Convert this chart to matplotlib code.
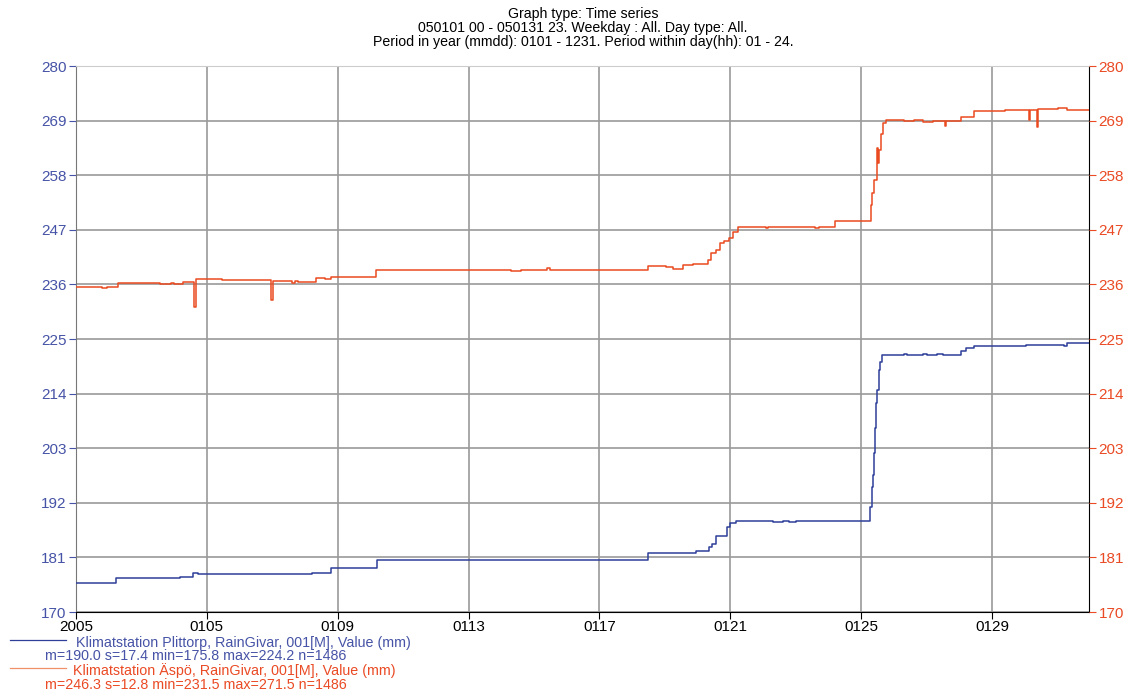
import matplotlib.pyplot as plt
from matplotlib.lines import Line2D
import numpy as np

plt.rcParams['font.family'] = ['Liberation Sans', 'DejaVu Sans']

# day offsets from 2005-01-01 00h and the level reached at that time (mm)
plittorp_t = [0, 0.6, 0.9, 1.21, 3.17, 3.58, 3.72, 7.21, 7.8, 9.21, 17.48, 18.95,
              19.36, 19.45, 19.55, 19.9, 20.0, 20.17, 21.3, 21.6, 21.8, 22.0,
              24.28, 24.32, 24.35, 24.38, 24.41, 24.44, 24.47, 24.53, 24.57, 24.63,
              25.3, 25.4, 25.9, 26.0, 26.3, 26.5, 27.04, 27.2, 27.45, 29.03,
              30.2, 30.3, 30.6, 30.96]
plittorp_v = [175.9, 175.8, 175.9, 176.85, 177.1, 177.9, 177.7, 177.95, 178.8, 180.4, 181.9, 182.35,
              183.0, 183.8, 185.4, 187.2, 187.9, 188.4, 188.1, 188.4, 188.1, 188.4,
              191.2, 195.2, 197.6, 202.0, 207.0, 212.1, 214.7, 218.8, 220.4, 221.8,
              222.0, 221.8, 222.0, 221.8, 222.0, 221.8, 222.5, 223.2, 223.6, 223.8,
              223.6, 224.1, 224.2, 224.2]

aspo_t = [0, 0.8, 0.95, 1.29, 2.56, 2.9, 3.0, 3.27, 3.62, 3.66, 4.45, 5.97, 6.01,
          6.6, 6.7, 6.79, 7.35, 7.6, 7.8, 9.18, 13.3, 13.6, 14.4, 14.5,
          17.48, 18.04, 18.25, 18.55, 18.85, 19.31, 19.42, 19.55, 19.68, 19.8,
          19.97, 20.07, 20.23, 20.4, 21.1, 21.15, 22.6, 22.7, 23.2,
          24.3, 24.33, 24.4, 24.47, 24.5, 24.55, 24.6, 24.65, 24.75,
          25.3, 25.6, 25.9, 26.2, 26.56, 26.6, 27.04, 27.45, 28.2, 28.4,
          29.13, 29.17, 29.36, 29.4, 30.0, 30.3, 30.96]
aspo_v = [235.5, 235.2, 235.5, 236.3, 236.0, 236.2, 236.0, 236.5, 231.5, 237.0, 236.8, 232.9, 236.6,
          236.2, 236.6, 236.5, 237.2, 237.0, 237.5, 239.0, 238.7, 239.0, 239.3, 239.0,
          239.8, 239.5, 239.2, 240.0, 240.1, 241.0, 242.4, 242.9, 244.3, 244.8,
          245.3, 246.6, 247.5, 247.6, 247.3, 247.6, 247.3, 247.6, 248.8,
          252.0, 254.4, 257.0, 263.5, 260.5, 263.0, 266.4, 268.5, 269.1,
          268.9, 269.1, 268.8, 269.0, 268.0, 268.9, 269.8, 271.0, 270.9, 271.1,
          269.2, 271.1, 267.8, 271.4, 271.5, 271.2, 271.2]

x_ticks = [0, 4, 8, 12, 16, 20, 24, 28]
x_labels = ["2005", "0105", "0109", "0113", "0117", "0121", "0125", "0129"]
y_ticks = [170, 181, 192, 203, 214, 225, 236, 247, 258, 269, 280]

blue = '#2d3f98'
red = '#ea4a20'
blue_txt = '#4653a6'
red_txt = '#ea4a24'

fig = plt.figure(figsize=(11.34, 6.98), dpi=100)
ax = fig.add_axes([0.067, 0.1232, 0.8933, 0.7822])

ax.plot(plittorp_t, plittorp_v, drawstyle='steps-post', color=blue, lw=1.1, zorder=3)
ax.plot(aspo_t, aspo_v, drawstyle='steps-post', color=red, lw=1.1, zorder=3)

ax.set_xlim(0, 30.96)
ax.set_ylim(170, 280)
ax.set_xticks(x_ticks)
ax.set_xticklabels(x_labels)
ax.set_yticks(y_ticks)
ax.grid(True, color='#9a9a9a', lw=1.2)
ax.tick_params(axis='x', colors='black', labelsize=11, length=5, pad=0.5)
ax.tick_params(axis='y', colors=blue_txt, labelsize=11, length=5, pad=2)
for lab in ax.get_yticklabels():
    lab.set_color(blue_txt)
ax.spines['top'].set_color('#cccccc')
ax.spines['left'].set_color('#777777')
ax.spines['right'].set_color('black')
ax.spines['bottom'].set_color('black')

ax2 = ax.twinx()
ax2.set_ylim(170, 280)
ax2.set_yticks(y_ticks)
ax2.tick_params(axis='y', colors=red_txt, labelsize=11, length=5, pad=2)
for s in ax2.spines.values():
    s.set_visible(False)

fig.text(0.514, 0.980, "Graph type: Time series", ha='center', va='center', fontsize=10.2)
fig.text(0.514, 0.960, "050101 00 - 050131 23. Weekday : All. Day type: All.",
         ha='center', va='center', fontsize=10.2)
fig.text(0.514, 0.940, "Period in year (mmdd): 0101 - 1231. Period within day(hh): 01 - 24.",
         ha='center', va='center', fontsize=10.2)

# series key underneath the plot
fig.add_artist(Line2D([0.009, 0.058], [0.0835, 0.0835], color=blue, lw=0.9, transform=fig.transFigure))
fig.text(0.067, 0.0795, "Klimatstation Plittorp, RainGivar, 001[M], Value (mm)",
         color=blue_txt, fontsize=10.3, va='center')
fig.text(0.040, 0.0595, "m=190.0 s=17.4 min=175.8 max=224.2 n=1486",
         color=blue_txt, fontsize=10.3, va='center')
fig.add_artist(Line2D([0.009, 0.058], [0.0435, 0.0435], color='#f0906a', lw=0.9, transform=fig.transFigure))
fig.text(0.064, 0.0395, "Klimatstation Äspö, RainGivar, 001[M], Value (mm)",
         color=red_txt, fontsize=10.3, va='center')
fig.text(0.040, 0.0180, "m=246.3 s=12.8 min=231.5 max=271.5 n=1486",
         color=red_txt, fontsize=10.3, va='center')

fig.savefig("out.png", dpi=100)
